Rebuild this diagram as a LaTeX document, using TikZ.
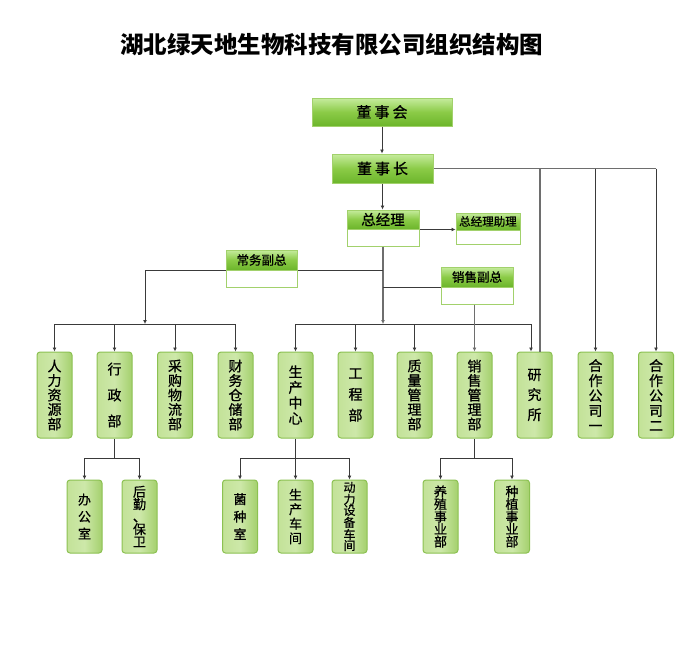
\documentclass[tikz,border=0pt]{standalone}
\usepackage{fontspec}
\setmainfont{Noto Sans CJK SC}
\newfontfamily\boxfont{Noto Sans CJK SC}[FakeBold=0.7]
\usetikzlibrary{positioning}
\usetikzlibrary{arrows.meta}
\definecolor{headTop}{HTML}{C6EC9E}
\definecolor{headMid}{HTML}{8BCB47}
\definecolor{headBot}{HTML}{6CB52B}
\definecolor{headEdge}{HTML}{A2D16C}
\definecolor{leafL}{HTML}{C3E298}
\definecolor{leafM}{HTML}{CDE8A9}
\definecolor{leafR}{HTML}{A4D06D}
\definecolor{leafEdge}{HTML}{8CC152}
\definecolor{lineCol}{HTML}{3A3A3A}
\definecolor{mainCol}{HTML}{6E6E6E}

\begin{document}
\boxfont
\begin{tikzpicture}[x=1pt,y=-1pt]

            \tikzstyle{headBox} = [draw=headEdge, line width=1pt, top color=headTop, bottom color=headBot, middle color=headMid, inner sep=0pt];
            \tikzstyle{noteBox} = [draw=headEdge, line width=1pt, fill=white, inner sep=0pt];
            \tikzstyle{deptBox} = [draw=leafEdge, line width=1pt, rounded corners=3pt, left color=leafL, right color=leafR, middle color=leafM, minimum width=35pt, minimum height=86pt, inner sep=0pt, align=center, font=\fontsize{14}{14.5}\selectfont];
            \tikzstyle{subDept} = [deptBox, minimum height=73pt, font=\fontsize{13}{12.5}\selectfont];
            \tikzstyle{link} = [draw=lineCol, line width=1pt];
            \tikzstyle{mainLink} = [draw=mainCol, line width=1.4pt];
            \tikzstyle{arr} = [-{Latex[length=4pt,width=4pt]}];

            \useasboundingbox (0,0) rectangle (700,656);

            \node (title) at (331.5,45) {\normalfont\fontsize{23.5}{24}\selectfont\bfseries 湖北绿天地生物科技有限公司组织结构图};

            % top of the chart
            \node[headBox, minimum width=140pt, minimum height=28pt] (dsh) at (382,112) {\fontsize{15}{15}\selectfont 董\hspace{3pt}事\hspace{3pt}会};
            \node[headBox, minimum width=101pt, minimum height=29pt] (dsz) at (382.5,168.5) {\fontsize{15}{15}\selectfont 董\hspace{3pt}事\hspace{3pt}长};
            \node[headBox, minimum width=72pt, minimum height=19pt] (zjl) at (383,219.5) {\fontsize{14.5}{15}\selectfont 总经理};
            \node[noteBox, minimum width=72pt, minimum height=17pt] (zjlb) at (383,237.5) {};
            \node[headBox, minimum width=64pt, minimum height=17pt] (zjzl) at (488,221.5) {\fontsize{11.5}{12}\selectfont 总经理助理};
            \node[noteBox, minimum width=64pt, minimum height=14pt] (zjzlb) at (488,237) {};
            \node[headBox, minimum width=71pt, minimum height=20pt] (cwfz) at (261.5,260) {\fontsize{12.5}{13}\selectfont 常务副总};
            \node[noteBox, minimum width=71pt, minimum height=17pt] (cwfzb) at (261.5,278.5) {};
            \node[headBox, minimum width=72pt, minimum height=20pt] (xsfz) at (477,277) {\fontsize{12.5}{13}\selectfont 销售副总};
            \node[noteBox, minimum width=72pt, minimum height=17pt] (xsfzb) at (477,295.5) {};

            % departments
            \node[deptBox] (rlzy) at (54.5,395) {人\\力\\资\\源\\部};
            \node[deptBox, font=\fontsize{14}{26}\selectfont] (xzb) at (114.5,395) {行\\政\\部};
            \node[deptBox] (cgwl) at (175,395) {采\\购\\物\\流\\部};
            \node[deptBox] (cwcc) at (235.5,395) {财\\务\\仓\\储\\部};
            \node[deptBox, font=\fontsize{14}{15.5}\selectfont] (sczx) at (295.5,395) {生\\产\\中\\心};
            \node[deptBox, font=\fontsize{14}{21}\selectfont] (gcb) at (355.5,395) {工\\程\\部};
            \node[deptBox] (zlgl) at (414.5,395) {质\\量\\管\\理\\部};
            \node[deptBox] (xsgl) at (474.5,395) {销\\售\\管\\理\\部};
            \node[deptBox, font=\fontsize{14}{20}\selectfont] (yjs) at (534.5,395) {研\\究\\所};
            \node[deptBox, font=\fontsize{14}{15}\selectfont] (hz1) at (595.5,395) {合\\作\\公\\司\\一};
            \node[deptBox, font=\fontsize{14}{15}\selectfont] (hz2) at (656,395) {合\\作\\公\\司\\二};

            % sub departments
            \node[subDept, font=\fontsize{13}{17}\selectfont] (bgs) at (84.5,516.5) {办\\公\\室};
            \node[subDept] (hqbw) at (139.5,516.5) {后\\勤\\、\\保\\卫};
            \node[subDept, font=\fontsize{13}{17.5}\selectfont] (jzs) at (240,516.5) {菌\\种\\室};
            \node[subDept, font=\fontsize{13}{14.5}\selectfont] (sccj) at (295.5,516.5) {生\\产\\车\\间};
            \node[subDept, font=\fontsize{12}{11}\selectfont] (dlsb) at (349.5,516.5) {动\\力\\设\\备\\车\\间};
            \node[subDept] (yzsy) at (440.5,516.5) {养\\殖\\事\\业\\部};
            \node[subDept] (zzsy) at (512,516.5) {种\\植\\事\\业\\部};

            \coordinate (leftJ) at (145,324);
            \coordinate (midJ) at (383,324);
            \coordinate (xzJ) at (114.5,458);
            \coordinate (scJ) at (295.5,458);
            \coordinate (xsJ) at (474.5,458);

            \draw[link, arr] (dsh.south) -- (dsh.south |- dsz.north);
            \draw[link, arr] (dsz.south) -- (dsz.south |- zjl.north);
            \draw[link, arr] (zjl.south east) -- (zjl.south east -| zjzl.west);

            % right side from the chairman
            \draw[mainLink] (dsz.east) -- (dsz.east -| hz2.north);
            \draw[link, arr] (dsz.east -| hz2.north) -- (hz2.north);
            \draw[link, arr] (dsz.east -| hz1.north) -- (hz1.north);
            \draw[mainLink] ([xshift=5.5pt]yjs.north |- dsz.east) -- ([xshift=5.5pt]yjs.north);

            % general manager down
            \draw[mainLink, arr] (zjlb.south) -- (midJ);
            \draw[link] (cwfz.south east) -- (cwfz.south east -| zjlb.south);
            \draw[link] (xsfz.south west) -- (xsfz.south west -| zjlb.south);
            \draw[link, arr] (cwfz.south west) -| (leftJ);
            \draw[link] (rlzy.north |- leftJ) -- (cwcc.north |- leftJ);
            \draw[link, arr] (rlzy.north |- leftJ) -- (rlzy.north);
            \draw[link, arr] (xzb.north |- leftJ) -- (xzb.north);
            \draw[link, arr] (cgwl.north |- leftJ) -- (cgwl.north);
            \draw[link, arr] (cwcc.north |- leftJ) -- (cwcc.north);

            \draw[link] (sczx.north |- midJ) -- ([xshift=-3.5pt]yjs.north |- midJ);
            \draw[link, arr] (sczx.north |- midJ) -- (sczx.north);
            \draw[link, arr] (gcb.north |- midJ) -- (gcb.north);
            \draw[link, arr] (zlgl.north |- midJ) -- (zlgl.north);
            \draw[link, arr] ([xshift=-3.5pt]yjs.north |- midJ) -- ([xshift=-3.5pt]yjs.north);
            \draw[mainLink, arr] (xsfzb.south -| xsgl.north) -- (xsgl.north);

            % lower level
            \draw[link] (xzb.south) -- (xzJ);
            \draw[link] (bgs.north |- xzJ) -- (hqbw.north |- xzJ);
            \draw[link, arr] (bgs.north |- xzJ) -- (bgs.north);
            \draw[link, arr] (hqbw.north |- xzJ) -- (hqbw.north);

            \draw[link] (sczx.south) -- (scJ);
            \draw[link] (jzs.north |- scJ) -- (dlsb.north |- scJ);
            \draw[link, arr] (jzs.north |- scJ) -- (jzs.north);
            \draw[link, arr] (scJ) -- (sccj.north);
            \draw[link, arr] (dlsb.north |- scJ) -- (dlsb.north);

            \draw[link] (xsgl.south) -- (xsJ);
            \draw[link] (yzsy.north |- xsJ) -- (zzsy.north |- xsJ);
            \draw[link, arr] (yzsy.north |- xsJ) -- (yzsy.north);
            \draw[link, arr] (zzsy.north |- xsJ) -- (zzsy.north);
          \end{tikzpicture}
\end{document}
